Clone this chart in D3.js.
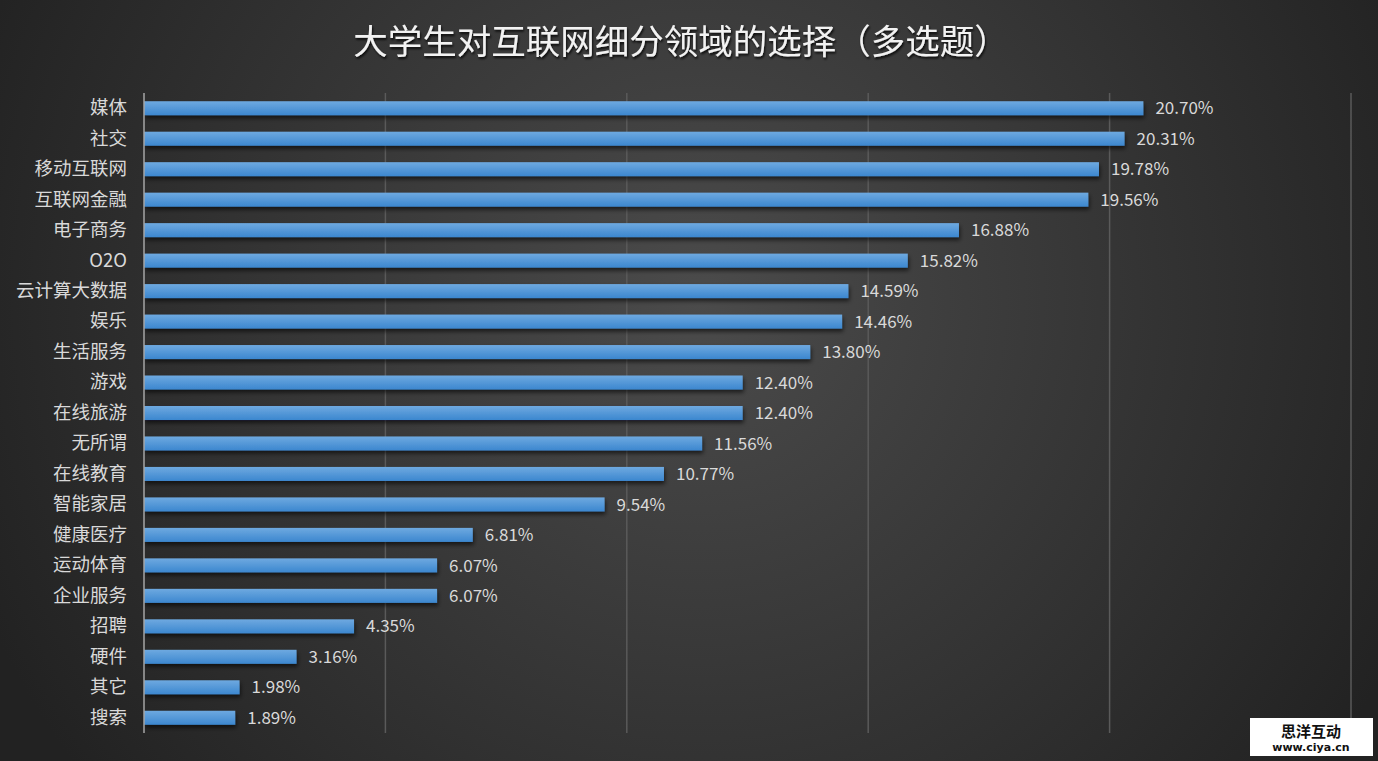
<!DOCTYPE html>
<html>
<head>
<meta charset="utf-8">
<script src="https://cdn.jsdelivr.net/npm/d3@7"></script>
<style>
  html, body { margin: 0; padding: 0; background: #2b2b2b; }
  svg { display: block; }
</style>
</head>
<body>
<svg id="chart" width="1378" height="761"></svg>
<script>
// data
var categories = ['媒体', '社交', '移动互联网', '互联网金融', '电子商务', 'O2O', '云计算大数据', '娱乐',
  '生活服务', '游戏', '在线旅游', '无所谓', '在线教育', '智能家居', '健康医疗', '运动体育',
  '企业服务', '招聘', '硬件', '其它', '搜索'];
var values = [20.70, 20.31, 19.78, 19.56, 16.88, 15.82, 14.59, 14.46, 13.80, 12.40, 12.40, 11.56,
  10.77, 9.54, 6.81, 6.07, 6.07, 4.35, 3.16, 1.98, 1.89];
var xTicks = [0, 5, 10, 15, 20, 25];
var title = '大学生对互联网细分领域的选择（多选题）';

var svg = d3.select('#chart');
var width = 1378, height = 761;
var cjk = '"Noto Sans CJK SC", "Noto Sans", sans-serif';

var defs = svg.append('defs');

// background radial gradient, lighter in the middle
var bg = defs.append('radialGradient').attr('id', 'bg')
  .attr('gradientUnits', 'userSpaceOnUse')
  .attr('cx', 700).attr('cy', 300).attr('r', 780);
bg.append('stop').attr('offset', '0%').attr('stop-color', '#4b4b4b');
bg.append('stop').attr('offset', '100%').attr('stop-color', '#222222');

// bar gradient, light top to darker bottom
var barGrad = defs.append('linearGradient').attr('id', 'barGrad')
  .attr('x1', 0).attr('y1', 0).attr('x2', 0).attr('y2', 1);
barGrad.append('stop').attr('offset', '0%').attr('stop-color', '#6ea9e0');
barGrad.append('stop').attr('offset', '100%').attr('stop-color', '#3c87cf');

var shadow = defs.append('filter').attr('id', 'shadow')
  .attr('x', '-5%').attr('y', '-50%').attr('width', '110%').attr('height', '220%');
shadow.append('feDropShadow').attr('dx', 1).attr('dy', 3).attr('stdDeviation', 2)
  .attr('flood-color', '#000').attr('flood-opacity', 0.6);

var textShadow = defs.append('filter').attr('id', 'textShadow');
textShadow.append('feDropShadow').attr('dx', 1).attr('dy', 2).attr('stdDeviation', 1)
  .attr('flood-color', '#000').attr('flood-opacity', 0.8);

svg.append('rect').attr('width', width).attr('height', height).attr('fill', 'url(#bg)');

// scales
var x = d3.scaleLinear().domain([0, 25]).range([144, 1351]);
var y = d3.scaleBand().domain(categories).range([93, 733]).paddingInner(0.54).paddingOuter(0.27);

// gridlines
svg.append('g').selectAll('line')
  .data(xTicks.slice(1))
  .enter().append('line')
  .attr('x1', function(d) { return x(d); })
  .attr('x2', function(d) { return x(d); })
  .attr('y1', 93).attr('y2', 733)
  .attr('stroke', '#5a5a5a').attr('stroke-width', 1.5);

// bars
svg.append('g').selectAll('rect')
  .data(values)
  .enter().append('rect')
  .attr('x', x(0))
  .attr('y', function(d, i) { return y(categories[i]); })
  .attr('width', function(d) { return x(d) - x(0); })
  .attr('height', y.bandwidth())
  .attr('fill', 'url(#barGrad)')
  .attr('filter', 'url(#shadow)');

// y axis line
svg.append('line')
  .attr('x1', x(0)).attr('x2', x(0)).attr('y1', 93).attr('y2', 733)
  .attr('stroke', '#a6a6a6').attr('stroke-width', 1.5);

// category labels
var yAxis = d3.axisLeft(y).tickSize(0).tickPadding(17);
var gy = svg.append('g').attr('transform', 'translate(' + x(0) + ',0)').call(yAxis);
gy.select('.domain').remove();
gy.selectAll('text')
  .attr('fill', '#d9d9d9')
  .style('font-family', cjk)
  .style('font-size', '18.5px');

// value labels
svg.append('g').selectAll('text')
  .data(values)
  .enter().append('text')
  .attr('x', function(d) { return x(d) + 12; })
  .attr('y', function(d, i) { return y(categories[i]) + y.bandwidth() / 2; })
  .attr('dy', '0.36em')
  .attr('fill', '#d9d9d9')
  .style('font-family', cjk)
  .style('font-size', '17px')
  .text(function(d) { return d.toFixed(2) + '%'; });

// title
svg.append('text')
  .attr('x', 681).attr('y', 54)
  .attr('text-anchor', 'middle')
  .attr('fill', '#f2f2f2')
  .attr('filter', 'url(#textShadow)')
  .style('font-family', cjk)
  .style('font-size', '34.5px')
  .text(title);

// watermark box
var wm = svg.append('g').attr('transform', 'translate(1250,718)');
wm.append('rect').attr('width', 123).attr('height', 38).attr('fill', '#fff');
wm.append('text').attr('x', 61).attr('y', 19).attr('text-anchor', 'middle')
  .attr('fill', '#111').style('font-family', cjk).style('font-size', '15px')
  .style('font-weight', 'bold').text('思洋互动');
wm.append('text').attr('x', 61).attr('y', 33).attr('text-anchor', 'middle')
  .attr('fill', '#111').style('font-family', '"DejaVu Sans", sans-serif').style('font-size', '11px')
  .style('font-weight', 'bold').text('www.ciya.cn');
</script>
</body>
</html>
